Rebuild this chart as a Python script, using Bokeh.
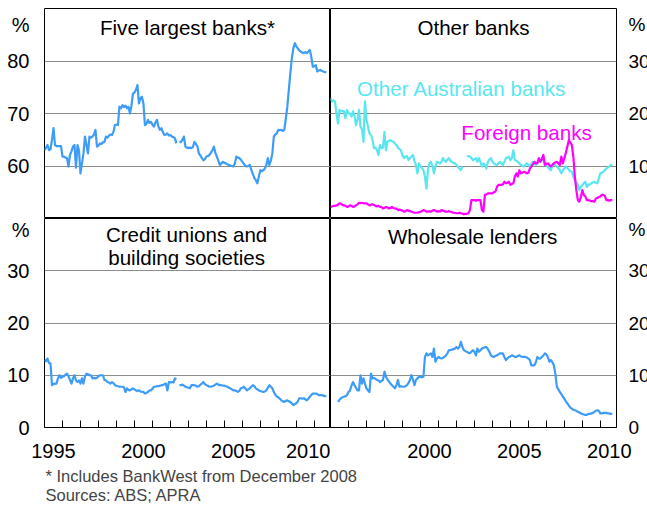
from bokeh.plotting import figure
from bokeh.layouts import column, row
from bokeh.models import FixedTicker, Label, Range1d
from bokeh.embed import file_html
from bokeh.resources import INLINE

nan = float("nan")

# Monthly shares of housing loan approvals (%), Jan 1995 onwards
start_year = 1995
five_largest = [
    63.0, 63.5, 64.0, 63.0, 63.2, 65.0, 67.2, 64.0, 63.8, 63.8, 63.8, 63.8,
    61.8, 61.8, 61.6, 61.5, 59.9, 62.1, 62.8, 63.7, 64.0, 59.7, 64.0, 63.0,
    58.6, 60.5, 62.4, 65.6, 64.0, 62.4, 65.6, 65.4, 65.6, 66.0, 66.9, 63.7,
    63.9, 64.3, 64.2, 64.5, 64.6, 65.6, 65.4, 65.8, 66.0, 65.9, 66.5, 67.8,
    67.9, 67.8, 71.3, 71.0, 71.6, 71.2, 71.5, 71.0, 71.3, 70.0, 71.5, 73.8,
    74.0, 74.5, 75.4, 71.9, 72.9, 73.2, 71.9, 67.8, 68.0, 68.8, 68.2, 68.4,
    67.9, 67.5, 68.3, 68.8, 67.5, 66.9, 67.2, 66.4, 65.9, 66.0, 66.2, 65.8,
    65.9, 65.6, 65.5, 65.3, 64.3, nan, 64.5, 64.6, 65.0, 65.6, 63.7, 63.5,
    63.4, 63.5, 63.4, 63.6, 64.6, 64.2, 63.7, 62.4, 62.0, 61.5, 61.1, 61.3,
    61.8, 61.9, 62.1, 62.5, 63.0, 63.7, 62.5, 61.8, 61.0, 60.2, 60.5, 60.8,
    60.6, 60.5, 60.3, 60.2, 60.1, 60.0, 59.9, 60.5, 61.8, 61.6, 61.5, 61.2,
    60.8, 60.4, 60.0, 59.9, 60.0, 60.2, 59.2, 58.5, 57.7, 57.3, 56.7, 58.0,
    59.2, 59.0, 59.2, 59.5, 60.2, 61.5, 60.2, 61.0, 62.4, 65.6, 66.0, 66.2,
    66.9, 66.8, 66.9, 66.7, 66.9, 69.0, 71.3, 74.5, 77.7, 80.5, 82.4, 83.4,
    82.8, 82.4, 82.0, 81.8, 81.6, 81.5, 81.7, 81.5, 81.8, 82.1, 80.8, 78.9,
    79.0, 79.2, 78.0, 78.2, 78.3, 78.1, 78.0, 77.9, 77.8,
]
other_australian = [
    22.9, 22.3, 22.5, 22.3, 20.0, 18.1, 20.7, 20.4, 20.5, 20.4, 19.1, 20.7,
    20.0, 20.0, 19.4, 20.4, 19.5, 17.8, 18.8, 20.7, 17.5, 17.0, 14.6, 22.3,
    18.8, 17.5, 16.2, 15.9, 15.0, 13.4, 13.5, 13.0, 12.1, 14.0, 13.4, 13.5,
    16.5, 13.0, 14.6, 14.8, 14.9, 14.7, 14.6, 14.3, 14.0, 13.5, 13.2, 13.0,
    12.0, 11.5, 11.8, 11.9, 11.1, 11.5, 11.8, 12.1, 11.0, 10.2, 8.6, 10.5,
    10.0, 9.6, 9.2, 8.0, 5.7, 9.2, 10.5, 10.8, 10.0, 8.6, 9.9, 10.8,
    10.7, 10.5, 10.8, 11.5, 11.0, 10.8, 11.2, 11.5, 11.0, 10.8, 10.6, 10.5,
    10.2, 9.9, 9.5, 9.2, 9.9, nan, nan, 11.8, 11.9, 11.8, 11.5, 11.1,
    11.3, 11.5, 10.8, 11.5, 10.8, 9.9, 10.5, 10.2, 9.5, 10.8, 11.2, 11.5,
    10.8, 10.5, 10.3, 10.2, 10.5, 10.8, 10.5, 10.2, 10.8, 11.5, 11.6, 11.8,
    11.1, 11.5, 13.0, 11.1, 11.0, 10.8, 10.5, 10.2, 10.0, 9.9, 10.2, 10.5,
    10.2, 9.9, 10.4, 10.8, 10.5, 10.2, 10.5, 10.8, 11.0, 11.5, 11.0, 10.5,
    10.2, 9.8, 9.5, 9.2, 10.0, 10.5, 10.2, 9.9, 9.6, 9.2, 8.6, 9.2,
    9.5, 9.9, 9.6, 9.3, 9.0, 8.9, 8.0, 7.3, 6.9, 6.4, 5.4, 6.0,
    6.4, 6.7, 7.0, 6.0, 6.4, 6.5, 6.7, 6.9, 7.0, 6.8, 6.7, 7.6,
    8.6, 8.7, 8.9, 9.2, 9.5, 9.7, 9.9, 10.2, 10.3,
]
foreign = [
    2.2, 2.3, 2.4, 2.4, 2.5, 2.6, 2.9, 2.8, 2.6, 2.5, 2.4, 2.2,
    2.3, 2.5, 2.4, 2.2, 2.3, 2.5, 2.7, 3.0, 2.9, 3.0, 2.9, 2.9,
    2.9, 2.7, 2.5, 2.6, 2.7, 2.6, 2.4, 2.3, 2.4, 2.2, 2.2, 1.9,
    2.0, 2.2, 2.1, 1.9, 2.0, 2.2, 2.0, 1.9, 1.9, 1.6, 1.7, 1.6,
    1.5, 1.3, 1.4, 1.6, 1.5, 1.4, 1.3, 1.2, 1.1, 1.1, 1.1, 1.2,
    1.3, 1.4, 1.6, 1.5, 1.3, 1.3, 1.4, 1.3, 1.5, 1.6, 1.5, 1.3,
    1.4, 1.3, 1.6, 1.5, 1.4, 1.3, 1.3, 1.4, 1.3, 1.2, 1.1, 1.1,
    1.0, 1.0, 1.1, 1.0, 0.9, 0.8, 0.9, 0.9, 1.0, 1.6, 3.5, 3.5,
    3.5, 3.4, 3.5, 3.5, 3.5, 1.6, 1.3, 4.5, 4.6, 4.8, 4.8, 4.8,
    4.8, 5.0, 5.1, 6.0, 6.4, 6.4, 6.4, 6.5, 7.0, 6.7, 6.8, 7.0,
    6.4, 6.6, 6.7, 8.0, 8.6, 8.0, 9.2, 8.6, 8.7, 8.9, 8.8, 8.6,
    8.7, 9.5, 9.9, 10.3, 10.8, 10.5, 10.6, 11.5, 10.8, 11.3, 12.1, 10.2,
    10.4, 10.5, 10.2, 9.9, 10.2, 10.5, 10.7, 10.8, 10.5, 10.2, 11.8, 10.5,
    11.5, 12.5, 13.7, 14.9, 14.5, 14.0, 11.8, 8.0, 5.4, 3.5, 3.2, 4.1,
    5.4, 4.5, 4.2, 3.5, 3.5, 3.4, 3.3, 3.3, 3.2, 3.8, 3.9, 4.1,
    4.2, 4.5, 4.5, 4.3, 3.5, 3.5, 3.4, 3.5, 3.5,
]
credit_unions = [
    12.9, 12.7, 13.2, 12.3, 12.3, 8.1, 8.3, 8.4, 8.4, 9.4, 10.0, 9.5,
    9.7, 9.8, 10.1, 10.3, 9.8, 9.1, 8.4, 9.4, 10.0, 9.0, 8.7, 9.0,
    8.4, 9.4, 8.4, 9.8, 10.3, 10.2, 10.0, 10.0, 9.4, 9.5, 9.4, 9.5,
    9.8, 10.0, 10.0, 10.0, 9.1, 9.0, 8.7, 8.6, 8.4, 8.7, 8.5, 8.1,
    8.0, 7.9, 7.8, 7.8, 7.8, 7.7, 6.8, 7.5, 7.2, 7.1, 7.3, 7.5,
    7.3, 7.1, 7.0, 7.1, 6.9, 6.8, 6.8, 6.5, 6.6, 6.8, 7.1, 7.1,
    7.4, 7.8, 7.8, 7.9, 7.9, 8.0, 8.1, 8.1, 8.3, 8.4, 7.1, 8.7,
    8.6, 8.7, 8.6, 9.4, 9.2, nan, 8.1, 8.1, 8.2, 8.0, 7.8, 7.7,
    7.6, 7.5, 8.1, 8.1, 8.1, 8.0, 7.8, 7.9, 8.2, 8.4, 8.7, 8.3,
    8.1, 8.0, 7.8, 7.8, 7.9, 8.0, 8.2, 8.4, 8.2, 8.1, 8.1, 8.0,
    8.0, 7.9, 7.8, 7.6, 7.5, 7.3, 7.1, 7.1, 7.0, 6.8, 7.0, 7.5,
    7.6, 7.8, 7.5, 7.1, 7.3, 7.5, 7.8, 8.1, 7.9, 7.5, 7.3, 7.1,
    7.0, 6.9, 6.8, 6.9, 7.1, 7.6, 8.1, 7.8, 7.5, 6.8, 6.3, 5.9,
    5.8, 5.5, 5.2, 5.0, 4.9, 5.1, 5.2, 5.0, 4.9, 4.6, 4.3, 4.5,
    4.6, 5.0, 5.6, 5.6, 5.5, 5.6, 5.4, 5.2, 5.5, 5.9, 6.2, 6.5,
    6.5, 6.5, 6.4, 6.2, 6.2, 6.2, 6.1, 6.0, 6.0,
]
wholesale = [
    nan, nan, nan, nan, nan, 4.9, 5.3, 5.6, 5.8, 5.9, 6.0, 6.2,
    6.8, 7.1, 8.0, 8.7, 8.1, 7.6, 7.1, 7.1, 10.0, 8.4, 9.4, 8.4,
    7.5, 7.1, 6.8, 10.3, 9.4, 9.5, 9.3, 9.1, 9.0, 8.7, 8.9, 9.1,
    10.7, 9.7, 9.2, 8.8, 8.4, 8.1, 7.8, 7.5, 8.1, 9.1, 7.8, 7.9,
    7.8, 7.8, 7.9, 8.1, 8.5, 9.1, 10.0, 9.2, 8.1, 9.1, 9.4, 9.7,
    9.7, 9.6, 9.7, 13.5, 14.2, 13.8, 14.0, 14.2, 13.5, 15.1, 12.6, 13.2,
    13.5, 13.3, 13.2, 13.3, 13.5, 13.8, 14.2, 14.8, 14.8, 14.9, 15.0, 15.1,
    15.4, 15.1, 15.4, 16.4, 15.4, 14.8, 14.6, 14.5, 14.3, 14.2, 14.5, 14.8,
    14.5, 13.8, 15.1, 14.5, 14.8, 15.1, 15.2, 15.4, 15.4, 15.0, 14.5, 13.8,
    13.6, 13.5, 13.7, 13.8, 14.0, 14.2, 14.2, 14.2, 13.5, 12.9, 13.2, 13.5,
    13.6, 13.8, 13.7, 13.5, 13.5, 13.7, 13.8, 13.6, 13.5, 13.5, 13.5, 13.4,
    13.2, 12.9, 11.9, 11.9, 11.9, 12.5, 13.5, 13.2, 13.2, 13.5, 13.8, 14.2,
    14.0, 13.5, 12.6, 12.9, 12.5, 11.9, 10.3, 7.8, 7.3, 6.8, 6.4, 5.9,
    5.5, 5.0, 4.6, 4.2, 3.8, 3.6, 3.4, 3.3, 3.2, 3.0, 2.9, 2.7,
    2.6, 2.5, 2.4, 2.4, 2.6, 2.6, 2.7, 2.8, 3.0, 3.2, 3.3, 3.2,
    2.7, 2.7, 2.8, 2.8, 2.8, 2.7, 2.7, 2.6, 2.6,
]

year_ticks = list(range(1996, 2011))
year_labels_left = {1995.5: "1995", 2000.5: "2000", 2005.5: "2005", 2010.5: "2010"}
year_labels_right = {2000.5: "2000", 2005.5: "2005", 2010.5: "2010"}

FONT = "Liberation Sans"
FS = "20px"
RFS = "19px"
TFS = "20.6px"
BLUE = "#3d9cf7"
CYAN = "#5ae6f0"
MAGENTA = "#ff00ff"
GRID = "#8c8c8c"


def months(series):
    return [start_year + i / 12 for i in range(len(series))]


def panel(y0, y1, side, top, bottom_labels, grid_ticks, pct_at, fh):
    kw = dict(
        frame_width=286, frame_height=fh,
        x_range=Range1d(1995, 2010.9), y_range=Range1d(y0, y1),
        toolbar_location=None, output_backend="svg",
        x_axis_location=("below" if bottom_labels is not None else None),
        y_axis_location=side,
        min_border_top=(8 if top else 0),
        min_border_bottom=(0 if top else 40),
        min_border_left=(44 if side == "left" else 0),
        min_border_right=(31 if side == "right" else 0),
    )
    p = figure(**kw)
    p.outline_line_color = "black"
    p.outline_line_width = 1
    p.background_fill_color = "white"
    p.border_fill_color = "white"
    p.xgrid.visible = False
    p.ygrid.ticker = FixedTicker(ticks=grid_ticks)
    p.ygrid.grid_line_color = GRID
    p.ygrid.grid_line_width = 1

    ya = p.yaxis[0]
    ticks = list(grid_ticks) + ([y0] if not top else []) + [pct_at]
    ya.ticker = FixedTicker(ticks=ticks)
    overrides = {t: str(int(t)) for t in ticks if t != pct_at}
    overrides[pct_at] = "%"
    ya.major_label_overrides = overrides
    ya.major_tick_line_color = None
    ya.minor_tick_line_color = None
    ya.axis_line_color = None
    ya.major_label_standoff = 9 if side == "left" else 6
    ya.major_label_text_font = FONT
    ya.major_label_text_font_size = FS if side == "left" else RFS
    ya.major_label_text_color = "black"

    if bottom_labels is not None:
        xa = p.xaxis[0]
        xa.ticker = FixedTicker(ticks=list(bottom_labels.keys()), minor_ticks=year_ticks)
        xa.major_label_overrides = bottom_labels
        xa.major_tick_line_color = None
        xa.minor_tick_in = 7
        xa.minor_tick_out = 0
        xa.minor_tick_line_color = "black"
        xa.axis_line_color = "black"
        xa.major_label_standoff = 10
        xa.major_label_text_font = FONT
        xa.major_label_text_font_size = FS
        xa.major_label_text_color = "black"
    return p


def title(p, text, x, y, color="black"):
    p.add_layout(Label(x=x, y=y, text=text, text_font=FONT, text_font_size=TFS,
                       text_color=color, text_align="center", text_baseline="middle"))


tl = panel(50, 90, "left", True, None, [60, 70, 80], 86.8, 210)
tr = panel(0, 40, "right", True, None, [10, 20, 30], 36.9, 210)
bl = panel(0, 40, "left", False, year_labels_left, [10, 20, 30], 38.4, 209)
br = panel(0, 40, "right", False, year_labels_right, [10, 20, 30], 38.4, 209)

lw = 2.2
tl.line(months(five_largest), five_largest, line_color=BLUE, line_width=lw, line_join="round")
tr.line(months(other_australian), other_australian, line_color=CYAN, line_width=lw, line_join="round")
tr.line(months(foreign), foreign, line_color=MAGENTA, line_width=lw, line_join="round")
bl.line(months(credit_unions), credit_unions, line_color=BLUE, line_width=lw, line_join="round")
br.line(months(wholesale), wholesale, line_color=BLUE, line_width=lw, line_join="round")

title(tl, "Five largest banks*", 2002.95, 86.4)
title(tr, "Other banks", 2002.95, 36.4)
title(tr, "Other Australian banks", 2002.3, 24.8, CYAN)
title(tr, "Foreign banks", 2005.9, 16.4, MAGENTA)
title(bl, "Credit unions and", 2002.9, 37.0)
title(bl, "building societies", 2002.9, 32.6)
title(br, "Wholesale lenders", 2002.9, 36.6)

foot = figure(width=647, height=40, toolbar_location=None, output_backend="svg",
              x_axis_location=None, y_axis_location=None, min_border=0,
              x_range=Range1d(0, 1), y_range=Range1d(0, 1))
foot.outline_line_color = None
foot.grid.visible = False
foot.add_layout(Label(x=45, y=32, x_units="screen", y_units="screen",
                      text="*  Includes BankWest from December 2008", text_font=FONT,
                      text_font_size="16.5px", text_baseline="middle", text_align="left"))
foot.add_layout(Label(x=45, y=13, x_units="screen", y_units="screen",
                      text="Sources: ABS; APRA", text_font=FONT,
                      text_font_size="16.5px", text_baseline="middle", text_align="left"))

layout = column(row(tl, tr), row(bl, br), foot)
open("out.html", "w").write(file_html(layout, INLINE))
